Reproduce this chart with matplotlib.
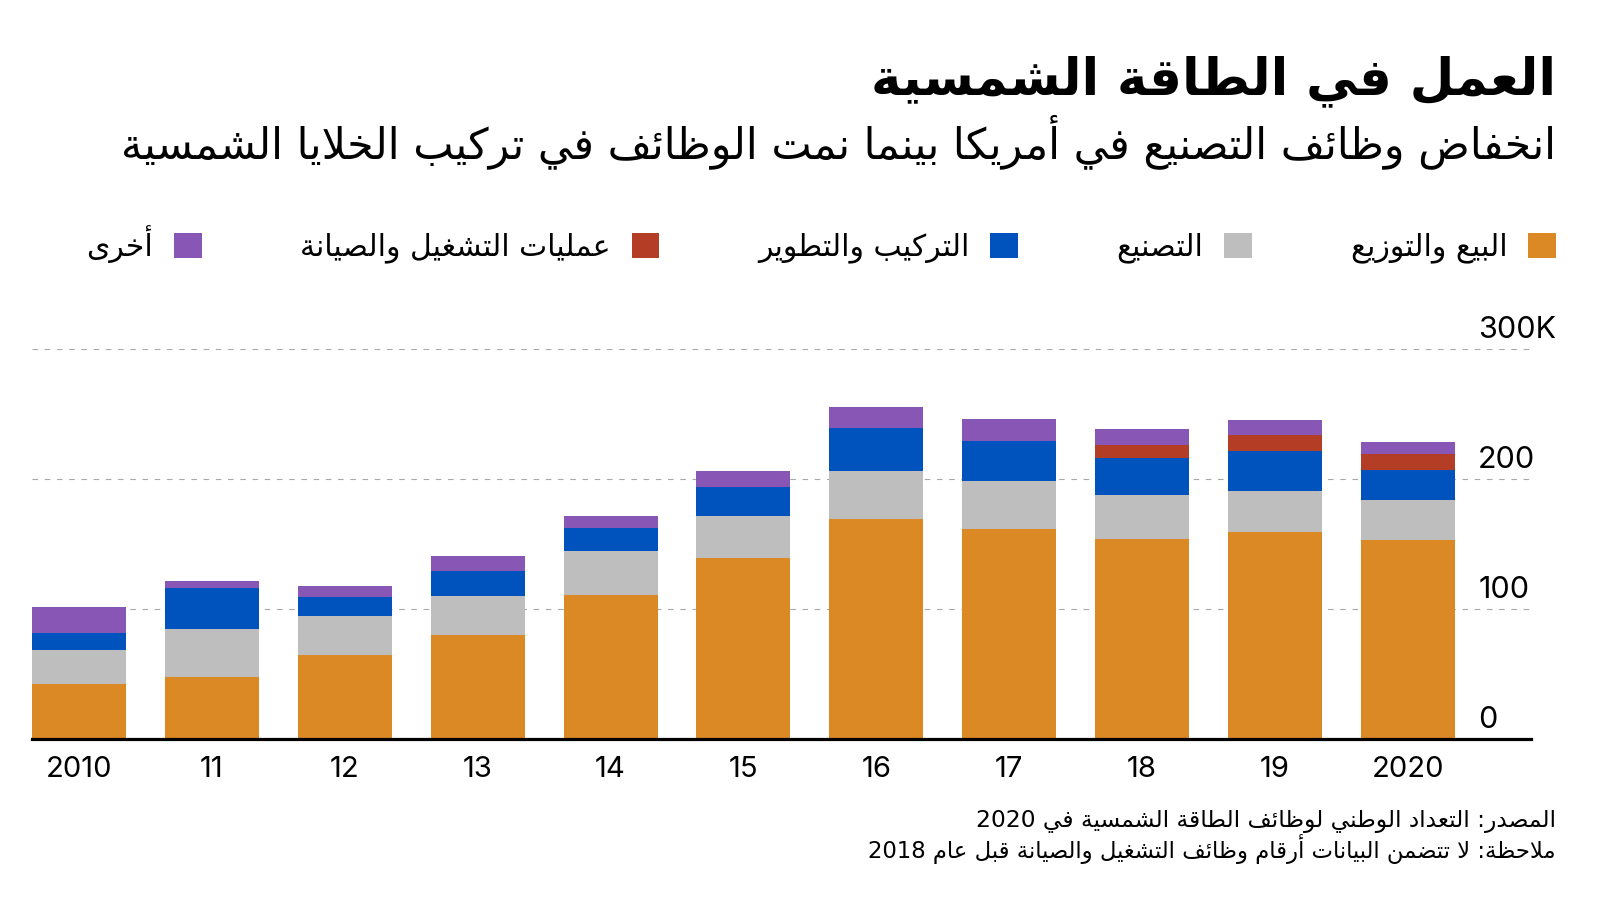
import re
import matplotlib
matplotlib.use('Agg')
import matplotlib.pyplot as plt
import matplotlib.transforms as mtransforms
from matplotlib.patches import Patch

# jobs in thousands
years = ['2010', '11', '12', '13', '14', '15', '16', '17', '18', '19', '2020']
sales = [42.3, 47.9, 64.3, 80.0, 111.0, 139.2, 169.4, 161.8, 153.5, 159.2, 152.8]
manufacturing = [26.2, 36.9, 30.0, 30.0, 33.3, 32.0, 37.0, 36.4, 33.9, 31.3, 30.7]
installation = [13.3, 31.1, 14.9, 19.2, 18.0, 22.6, 33.1, 30.7, 29.0, 30.7, 23.1]
operations = [0, 0, 0, 0, 0, 0, 0, 0, 9.4, 12.3, 12.3]
other = [19.7, 5.3, 8.7, 11.3, 8.9, 12.6, 15.6, 17.5, 12.9, 12.1, 9.6]

series_names = ['البيع والتوزيع', 'التصنيع', 'التركيب والتطوير',
                'عمليات التشغيل والصيانة', 'أخرى']
series_colors = ['#da8925', '#bebebe', '#0052bc', '#b33d25', '#8857b6']

ytick_vals = [0, 100, 200, 300]
ytick_labels = ['0', '100', '200', '300K']

title = 'العمل في الطاقة الشمسية'
subtitle = 'انخفاض وظائف التصنيع في أمريكا بينما نمت الوظائف في تركيب الخلايا الشمسية'
source = 'المصدر: التعداد الوطني لوظائف الطاقة الشمسية في 2020'
note = 'ملاحظة: لا تتضمن البيانات أرقام وظائف التشغيل والصيانة قبل عام 2018'


# --- minimal arabic shaping (matplotlib has no complex text layout) ---
# letters in the order of the presentation forms-B block, with number of forms
_letters = [('ء', 1), ('آ', 2), ('أ', 2), ('ؤ', 2), ('إ', 2), ('ئ', 4), ('ا', 2),
            ('ب', 4), ('ة', 2), ('ت', 4), ('ث', 4), ('ج', 4), ('ح', 4), ('خ', 4),
            ('د', 2), ('ذ', 2), ('ر', 2), ('ز', 2), ('س', 4), ('ش', 4), ('ص', 4),
            ('ض', 4), ('ط', 4), ('ظ', 4), ('ع', 4), ('غ', 4), ('ف', 4), ('ق', 4),
            ('ك', 4), ('ل', 4), ('م', 4), ('ن', 4), ('ه', 4), ('و', 2), ('ى', 2),
            ('ي', 4)]
FORMS = {}
_code = 0xFE80
for ch, n in _letters:
    FORMS[ch] = tuple(range(_code, _code + n))
    _code += n
LAM_ALEF = {'آ': 0xFEF5, 'أ': 0xFEF7, 'إ': 0xFEF9, 'ا': 0xFEFB}


def shape(text):
    items = []
    i = 0
    while i < len(text):
        c = text[i]
        if c == 'ل' and i + 1 < len(text) and text[i + 1] in LAM_ALEF:
            b = LAM_ALEF[text[i + 1]]
            items.append((b, b + 1))
            i += 2
        else:
            items.append(FORMS.get(c, c))
            i += 1
    out = []
    for k, it in enumerate(items):
        if isinstance(it, str):
            out.append(it)
            continue
        prev = items[k - 1] if k > 0 else None
        nxt = items[k + 1] if k + 1 < len(items) else None
        jp = len(it) >= 2 and isinstance(prev, tuple) and len(prev) == 4
        jn = len(it) == 4 and isinstance(nxt, tuple) and len(nxt) >= 2
        if jp and jn:
            idx = 3
        elif jp:
            idx = 1
        elif jn:
            idx = 2
        else:
            idx = 0
        out.append(chr(it[idx]))
    return ''.join(out)


def ar(text):
    s = shape(text)
    parts = re.findall(r'[0-9]+|[^0-9]+', s)
    return ''.join(p if p[0].isdigit() else p[::-1] for p in reversed(parts))


plt.rcParams['font.family'] = ['DejaVu Sans']
num_font = 'Inter'

fig = plt.figure(figsize=(16, 9), dpi=100)
ax = fig.add_axes([0.02, 1 - 739 / 900, 0.937, 390 / 900])

x = list(range(len(years)))
bottom = [0.0] * len(years)
for vals, col in zip([sales, manufacturing, installation, operations, other], series_colors):
    ax.bar(x, vals, width=0.707, bottom=bottom, color=col, linewidth=0, zorder=2)
    bottom = [b + v for b, v in zip(bottom, vals)]

ax.set_xlim(-0.355, 10.93)
ax.set_ylim(0, 300)
ax.set_yticks(ytick_vals)
ax.set_yticklabels([])
ax.tick_params(axis='y', length=0)
ax.grid(axis='y', color='#a8a8a8', linewidth=0.8, linestyle=(0, (5, 6)), zorder=0)
ax.set_axisbelow(True)

ax.set_xticks(x)
ax.set_xticklabels(years, fontsize=21, family=num_font)
ax.tick_params(axis='x', length=0, pad=12)

for side in ['left', 'right', 'top']:
    ax.spines[side].set_visible(False)
ax.spines['bottom'].set_linewidth(2.3)
ax.spines['bottom'].set_color('black')
ax.spines['bottom'].set_zorder(3)

ytrans = mtransforms.offset_copy(ax.get_yaxis_transform(), fig=fig, y=5, units='dots')
for v, lbl in zip(ytick_vals, ytick_labels):
    ax.text(0.9646, v, lbl, transform=ytrans, ha='left', va='bottom',
            fontsize=22, family=num_font)

# titles
fig.text(1556 / 1600, 1 - 94 / 900, ar(title), ha='right', va='baseline',
         fontsize=37, fontweight='bold')
fig.text(1556 / 1600, 1 - 158 / 900, ar(subtitle), ha='right', va='baseline',
         fontsize=30.8)

# legend, right to left
handles = [Patch(facecolor=c, edgecolor='none') for c in series_colors]
labels = [ar(n) for n in series_names]
fig.legend(handles[::-1], labels[::-1], loc='center right',
           bbox_to_anchor=(1556 / 1600, 1 - 244 / 900), ncol=5, frameon=False,
           markerfirst=False, fontsize=21.5, handlelength=0.93, handleheight=0.93,
           handletextpad=0.7, columnspacing=3.3, borderpad=0, borderaxespad=0)

# footnotes
fig.text(1556 / 1600, 1 - 827 / 900, ar(source), ha='right', va='baseline', fontsize=16.8)
fig.text(1556 / 1600, 1 - 858 / 900, ar(note), ha='right', va='baseline', fontsize=16.4)

fig.savefig('out.png', dpi=100, facecolor='white')
